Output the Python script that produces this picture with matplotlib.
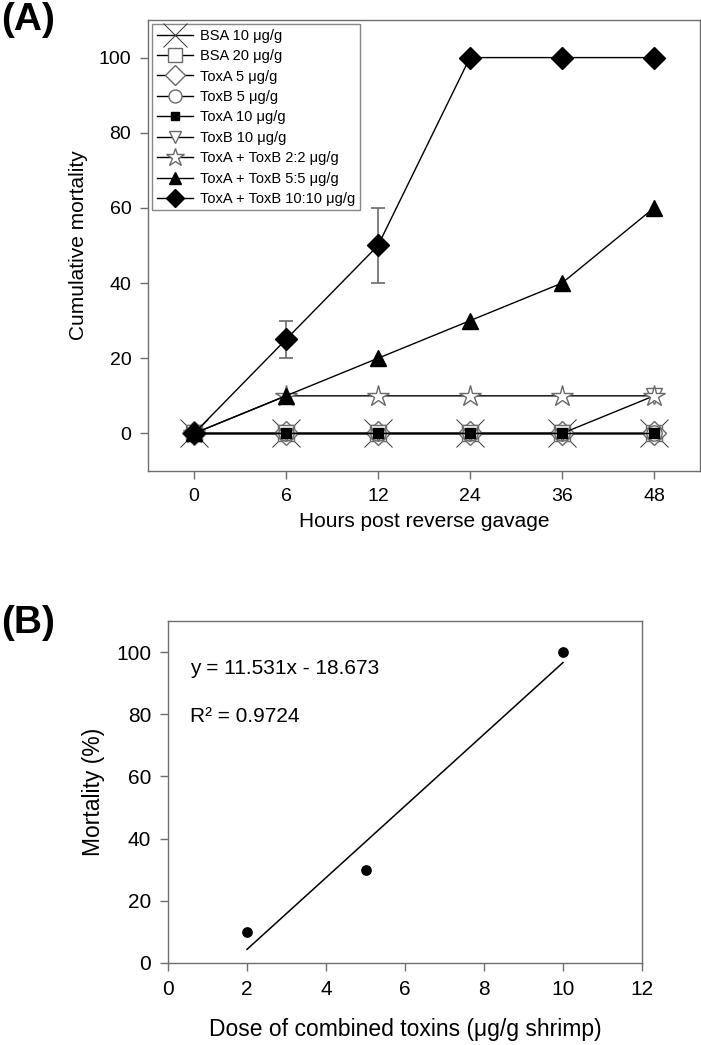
#! /usr/bin/env python
# Two-panel figure: cumulative mortality over time (A), dose-response regression (B)

import numpy as np
import matplotlib
matplotlib.use('Agg')
import matplotlib.pyplot as plt

plt.rcParams['font.family'] = ['Liberation Sans', 'DejaVu Sans']

# Panel A data
hours = ['0', '6', '12', '24', '36', '48']
series_labels = ['BSA 10 \u03bcg/g', 'BSA 20 \u03bcg/g', 'ToxA 5 \u03bcg/g', 'ToxB 5 \u03bcg/g',
                 'ToxA 10 \u03bcg/g', 'ToxB 10 \u03bcg/g', 'ToxA + ToxB 2:2 \u03bcg/g',
                 'ToxA + ToxB 5:5 \u03bcg/g', 'ToxA + ToxB 10:10 \u03bcg/g']
bsa10 = [0, 0, 0, 0, 0, 0]
bsa20 = [0, 0, 0, 0, 0, 0]
toxa5 = [0, 0, 0, 0, 0, 0]
toxb5 = [0, 0, 0, 0, 0, 0]
toxa10 = [0, 0, 0, 0, 0, 0]
toxb10 = [0, 0, 0, 0, 0, 10]
combo2 = [0, 10, 10, 10, 10, 10]
combo5 = [0, 10, 20, 30, 40, 60]
combo10 = [0, 25, 50, 100, 100, 100]
combo10_err = [0, 5, 10, 0, 0, 0]

# Panel B data
dose = [2, 5, 10]
mortality = [10, 30, 100]

W, H = 701, 1045
fig = plt.figure(figsize=(W/100.0, H/100.0), dpi=100)

def px_axes(left, top, right, bottom):
    return fig.add_axes([left/W, 1 - bottom/H, (right-left)/W, (bottom-top)/H])

spine_col = '#6e6e6e'
gray = '#6a6a6a'

def style_axes(ax, size):
    for s in ax.spines.values():
        s.set_color(spine_col)
        s.set_linewidth(1.0)
    ax.tick_params(direction='out', length=6, width=1, color=spine_col,
                   labelsize=size, top=False, right=False, pad=6)

#Panel A
axa = px_axes(148, 20, 700, 471)
x = np.arange(len(hours))
lw = 1.0
# (values, marker, size, face, edge, mew, zorder)
styles = [
    (bsa10, 'x', 20, 'none', '#333333', 0.7, 3),
    (bsa20, 's', 12, 'white', gray, 1.0, 3),
    (toxa5, 'D', 12, 'white', gray, 1.0, 3),
    (toxb5, 'o', 11, 'white', gray, 1.0, 3),
    (toxa10, 's', 6.5, 'black', 'black', 1.0, 4),
    (toxb10, 'v', 11, 'white', gray, 1.0, 3),
    (combo2, '*', 16, 'white', gray, 1.0, 3),
    (combo5, '^', 11, 'black', 'black', 1.0, 5),
    (combo10, 'D', 11, 'black', 'black', 1.0, 5),
]
handles = []
for (vals, mk, ms, fc, ec, mew, z), lab in zip(styles, series_labels):
    h, = axa.plot(x, vals, color='black', lw=lw, marker=mk, markersize=ms,
                  markerfacecolor=fc, markeredgecolor=ec, markeredgewidth=mew,
                  label=lab, zorder=z)
    handles.append(h)
axa.errorbar(x[1:3], combo10[1:3], yerr=combo10_err[1:3], fmt='none',
             ecolor=gray, elinewidth=1.2, capsize=5, capthick=1.2, zorder=2)

axa.set_xlim(-0.5, 5.5)
axa.set_ylim(-10, 110)
axa.set_xticks(x)
axa.set_xticklabels(hours)
axa.set_yticks([0, 20, 40, 60, 80, 100])
style_axes(axa, 14)
axa.set_ylabel('Cumulative mortality', fontsize=15, labelpad=8)
axa.set_xlabel('Hours post reverse gavage', fontsize=15, labelpad=5)

leg = axa.legend(handles=handles, loc='upper left', bbox_to_anchor=(0.0, 1.0),
                 fontsize=10.5, frameon=True, fancybox=False, edgecolor=gray,
                 borderaxespad=0.3, handlelength=2.5, handletextpad=0.5,
                 labelspacing=0.44, borderpad=0.3, markerscale=0.85)
leg.get_frame().set_linewidth(1.0)
leg.set_zorder(10)

#Panel B
axb = px_axes(168, 621, 642, 963)
axb.scatter(dose, mortality, s=45, color='black', zorder=3)
slope, intercept = np.polyfit(dose, mortality, 1)
xf = np.array([min(dose), max(dose)])
axb.plot(xf, slope*xf + intercept, color='black', lw=1.1)
axb.text(0.55, 94.6, 'y = %.3fx - %.3f' % (slope, -intercept), fontsize=15, va='center')
axb.text(0.55, 79.2, 'R\u00b2 = 0.9724', fontsize=15, va='center')
axb.set_xlim(0, 12)
axb.set_ylim(0, 110)
axb.set_xticks(range(0, 13, 2))
axb.set_yticks([0, 20, 40, 60, 80, 100])
style_axes(axb, 15)
axb.set_ylabel('Mortality (%)', fontsize=16.5, labelpad=8)
axb.set_xlabel('Dose of combined toxins (\u03bcg/g shrimp)', fontsize=16.5, labelpad=14)

fig.text(0.002, 1 - 20/H, '(A)', fontsize=28, fontweight='bold', va='center', ha='left')
fig.text(0.002, 1 - 623/H, '(B)', fontsize=28, fontweight='bold', va='center', ha='left')

fig.savefig('out.png', dpi=100)
